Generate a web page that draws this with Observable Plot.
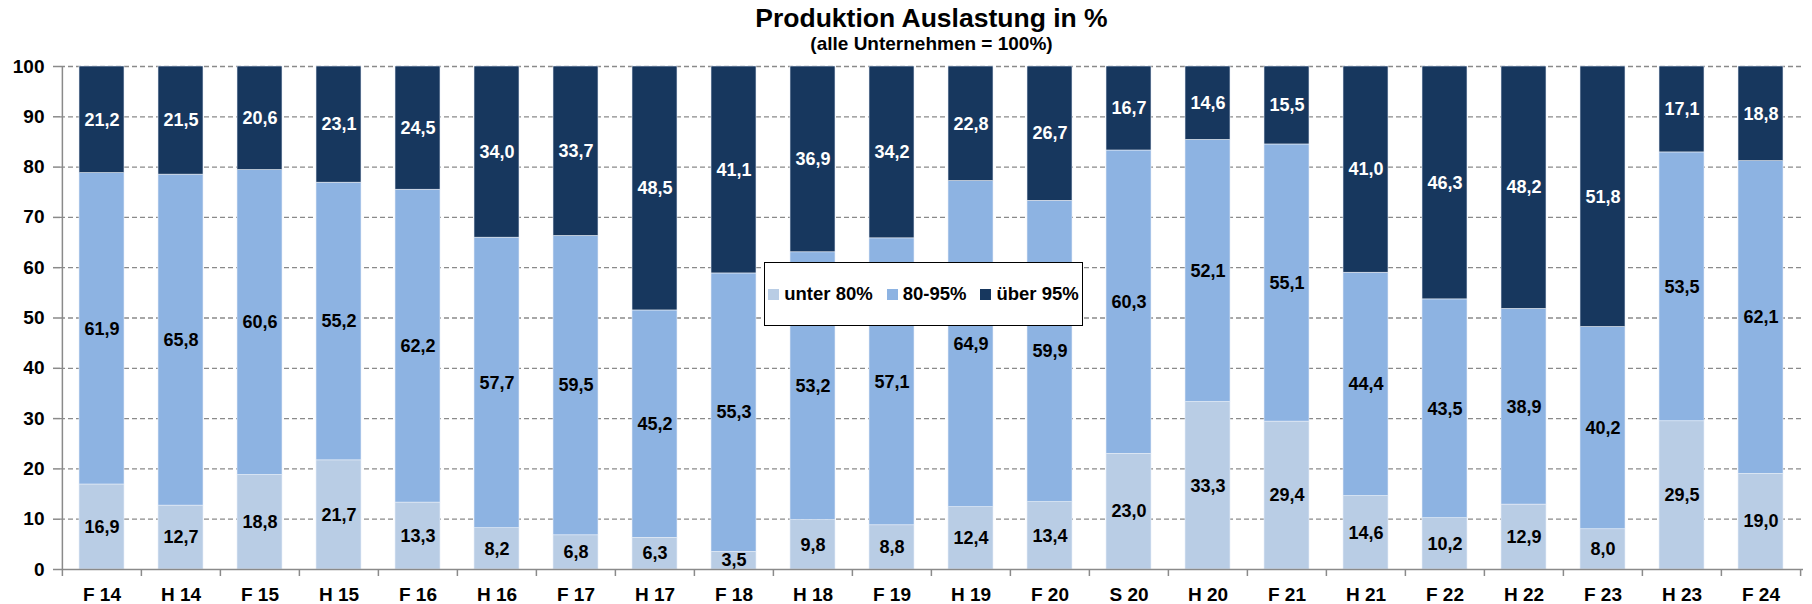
<!DOCTYPE html>
<html>
<head>
<meta charset="utf-8">
<script src="https://cdn.jsdelivr.net/npm/d3@7"></script>
<script src="https://cdn.jsdelivr.net/npm/@observablehq/plot@0.6"></script>
<style>
  html, body { margin: 0; padding: 0; background: #fff; }
  body { font-family: "Liberation Sans", Arial, sans-serif; }
  #wrap { position: relative; width: 1812px; height: 604px; overflow: hidden; }
  .title { position: absolute; left: 60px; width: 1743px; text-align: center; font-weight: bold; color: #000; line-height: 1; white-space: nowrap; z-index: 2; }
  #t1 { top: 5px; font-size: 26.5px; }
  #t2 { top: 34px; font-size: 19px; }
  #chart { position: absolute; left: 0; top: 46px; }
  #legend { position: absolute; left: 764px; top: 262px; width: 317px; height: 62px; border: 1.5px solid #000; background: #fff;
            display: flex; align-items: center; justify-content: center; gap: 14px; font-weight: bold; font-size: 18.5px; color: #000; }
  #legend .item { display: flex; align-items: center; gap: 5px; }
  #legend .sw { width: 11px; height: 11px; display: inline-block; }
</style>
</head>
<body>
<div id="wrap">
  <div id="chart"></div>
  <div class="title" id="t1">Produktion Auslastung in %</div>
  <div class="title" id="t2">(alle Unternehmen = 100%)</div>
  <div id="legend"></div>
</div>
<script>
const categories = ["F 14","H 14","F 15","H 15","F 16","H 16","F 17","H 17","F 18","H 18","F 19","H 19","F 20","S 20","H 20","F 21","H 21","F 22","H 22","F 23","H 23","F 24"];
const seriesNames = ["unter 80%", "80-95%", "über 95%"];
const seriesColors = ["#b9cde5", "#8db3e2", "#17375e"];
const unter80 = [16.9,12.7,18.8,21.7,13.3,8.2,6.8,6.3,3.5,9.8,8.8,12.4,13.4,23.0,33.3,29.4,14.6,10.2,12.9,8.0,29.5,19.0];
const mid8095 = [61.9,65.8,60.6,55.2,62.2,57.7,59.5,45.2,55.3,53.2,57.1,64.9,59.9,60.3,52.1,55.1,44.4,43.5,38.9,40.2,53.5,62.1];
const ueber95 = [21.2,21.5,20.6,23.1,24.5,34.0,33.7,48.5,41.1,36.9,34.2,22.8,26.7,16.7,14.6,15.5,41.0,46.3,48.2,51.8,17.1,18.8];
const yTicks = [0,10,20,30,40,50,60,70,80,90,100];

const seriesValues = [unter80, mid8095, ueber95];
const data = [];
categories.forEach((c, i) => {
  seriesNames.forEach((s, j) => data.push({cat: c, series: s, value: seriesValues[j][i]}));
});

const fmt = v => v.toFixed(1).replace(".", ",");

const W = 1812, H = 558;
const mL = 60, mR = 9, mT = 20, mB = 35;
const step = (W - mL - mR) / categories.length;

const labelFont = {fontSize: 18, fontWeight: "bold", fontFamily: "Liberation Sans, Arial, sans-serif"};

const chart = Plot.plot({
  width: W,
  height: H,
  marginLeft: mL,
  marginRight: mR,
  marginTop: mT,
  marginBottom: mB,
  style: {fontFamily: "Liberation Sans, Arial, sans-serif", background: "white", color: "black", overflow: "visible"},
  x: {domain: categories, paddingInner: 0.43, paddingOuter: 0.215, align: 0.5, label: null},
  y: {domain: [0, 1], label: null},
  color: {domain: seriesNames, range: seriesColors},
  marks: [
    Plot.gridY(yTicks.filter(d => d > 0).map(d => d / 100), {stroke: "#8a8a8a", strokeOpacity: 1, strokeWidth: 1.3, strokeDasharray: "5,3"}),
    Plot.barY(data, Plot.stackY({x: "cat", y: "value", fill: "series", offset: "normalize", stroke: "#e8eef7", strokeWidth: 0.6})),
    Plot.text(data, Plot.stackY({x: "cat", y: "value", offset: "normalize",
      text: d => d.series === "über 95%" ? null : fmt(d.value), fill: "black", ...labelFont})),
    Plot.text(data, Plot.stackY({x: "cat", y: "value", offset: "normalize",
      text: d => d.series === "über 95%" ? fmt(d.value) : null, fill: "white", ...labelFont})),
    // axis lines
    Plot.ruleY([0], {stroke: "#8a8a8a", strokeWidth: 1.5}),
    Plot.ruleX([categories[0]], {x: d => d, y1: 0, y2: 1, dx: -step / 2, stroke: "#8a8a8a", strokeWidth: 1.5}),
    // category boundary ticks
    Plot.ruleX(categories, {x: d => d, y1: 0, y2: 0, dx: -step / 2, insetBottom: -7, stroke: "#8a8a8a", strokeWidth: 1.5}),
    Plot.ruleX([categories[categories.length - 1]], {x: d => d, y1: 0, y2: 0, dx: step / 2, insetBottom: -7, stroke: "#8a8a8a", strokeWidth: 1.5}),
    Plot.axisY(yTicks.map(d => d / 100), {tickFormat: d => String(Math.round(d * 100)), tickSize: 7, tickPadding: 9,
      stroke: "#8a8a8a", strokeWidth: 1.5, fill: "black", fontSize: 19, fontWeight: "bold", label: null}),
    Plot.axisX({tickSize: 0, tickPadding: 18, fill: "black", fontSize: 19, fontWeight: "bold", label: null})
  ]
});
document.getElementById("chart").appendChild(chart);

const legend = document.getElementById("legend");
seriesNames.forEach((s, j) => {
  const item = document.createElement("span");
  item.className = "item";
  const sw = document.createElement("span");
  sw.className = "sw";
  sw.style.background = seriesColors[j];
  const t = document.createElement("span");
  t.textContent = s;
  item.appendChild(sw);
  item.appendChild(t);
  legend.appendChild(item);
});
</script>
</body>
</html>
